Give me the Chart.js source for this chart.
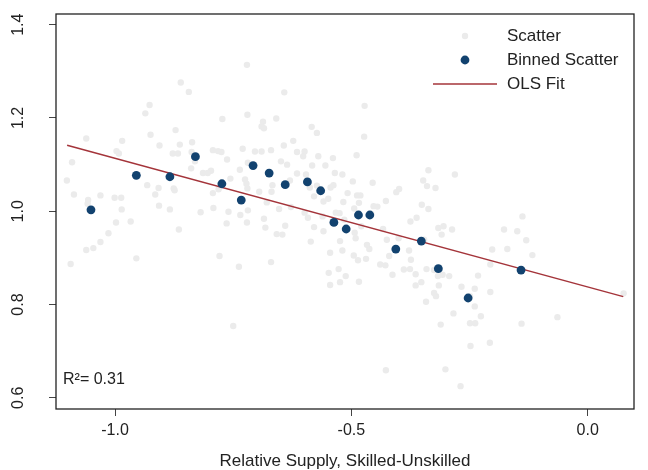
<!DOCTYPE html>
<html>
<head>
<meta charset="utf-8">
<script src="https://cdn.jsdelivr.net/npm/chart.js@4.4.1/dist/chart.umd.min.js"></script>
<style>
  html, body { margin: 0; padding: 0; background: #fff; }
  #wrap { width: 648px; height: 470px; }
</style>
</head>
<body>
<div id="wrap"><canvas id="chart"></canvas></div>
<script>
//raw scatter points
const scatterX = [
  -0.721, -0.861, -0.844, -0.642, -0.927, -0.936, -0.472, -0.773, -0.720, -0.659,
  -0.687, -0.690, -0.685, -0.584, -0.573, -0.925, -1.061, -0.985, -0.872, -0.473,
  -0.906, -0.863, -0.837, -0.623, -0.643, -0.730, -0.793, -0.782, -0.775, -0.997,
  -0.992, -1.091, -0.878, -0.867, -0.838, -0.704, -0.690, -0.670, -0.615, -0.599,
  -0.602, -0.489, -0.763, -0.831, -0.570, -0.539, -0.583, -0.649, -0.636, -0.596,
  -0.555, -0.719, -0.736, -0.797, -0.814, -0.804, -0.839, -0.535, -0.519, -0.337,
  -0.281, -0.497, -0.455, -0.348, -0.340, -0.322, -1.102, -1.087, -1.031, -1.057,
  -1.001, -0.987, -0.932, -0.908, -0.915, -0.876, -0.874, -0.793, -0.781, -0.756,
  -0.725, -0.722, -0.720, -0.695, -0.669, -0.667, -0.630, -0.615, -0.588, -0.573,
  -0.544, -0.538, -0.549, -0.579, -0.559, -0.517, -0.508, -0.488, -0.481, -0.484,
  -0.494, -0.453, -0.445, -0.427, -0.399, -0.405, -0.986, -0.907, -0.884, -0.792,
  -0.760, -0.735, -0.719, -0.679, -0.653, -0.628, -0.599, -0.533, -0.592, -0.561,
  -1.014, -0.998, -0.967, -1.031, -1.046, -1.061, -1.094, -0.955, -0.865, -0.819,
  -0.764, -0.721, -0.685, -0.682, -0.658, -0.646, -0.640, -0.579, -0.559, -0.586,
  -0.525, -0.515, -0.493, -0.491, -0.479, -0.458, -0.433, -0.425, -0.462, -0.467,
  -0.469, -0.486, -0.495, -0.524, -0.519, -0.545, -0.548, -0.527, -0.512, -0.545,
  -0.524, -0.484, -0.400, -0.375, -0.362, -0.351, -0.337, -0.316, -0.305, -0.287,
  -0.309, -0.346, -0.378, -0.374, -0.420, -0.439, -0.413, -0.428, -0.389, -0.376,
  -0.364, -0.364, -0.352, -0.341, -0.325, -0.317, -0.307, -0.293, -0.315, -0.321,
  -0.325, -0.342, -0.311, -0.284, -0.267, -0.249, -0.239, -0.232, -0.206, -0.202,
  -0.206, -0.226, -0.239, -0.249, -0.238, -0.248, -0.207, -0.177, -0.170, -0.149,
  -0.130, -0.138, -0.117, -0.140, -0.064, 0.076, -0.750, -0.427, -0.301, -0.269,
  -0.779, -0.738, -0.670, -1.058
];
const scatterY = [
  1.314, 1.276, 1.256, 1.255, 1.228, 1.210, 1.226, 1.198, 1.207, 1.199,
  1.192, 1.182, 1.178, 1.181, 1.168, 1.164, 1.156, 1.151, 1.174, 1.160,
  1.141, 1.143, 1.148, 1.151, 1.141, 1.134, 1.131, 1.129, 1.127, 1.129,
  1.124, 1.105, 1.124, 1.124, 1.127, 1.128, 1.128, 1.131, 1.127, 1.128,
  1.118, 1.120, 1.111, 1.107, 1.118, 1.114, 1.098, 1.107, 1.100, 1.079,
  1.098, 1.104, 1.089, 1.087, 1.082, 1.082, 1.092, 1.082, 1.079, 1.088,
  1.079, 1.064, 1.061, 1.066, 1.054, 1.050, 1.066, 1.036, 1.034, 1.024,
  1.029, 1.029, 1.056, 1.050, 1.036, 1.049, 1.045, 1.039, 1.047, 1.070,
  1.068, 1.059, 1.049, 1.042, 1.042, 1.056, 1.066, 1.081, 1.051, 1.055,
  1.051, 1.056, 1.027, 1.032, 1.021, 1.020, 1.039, 1.034, 1.034, 1.018,
  1.006, 1.011, 1.010, 1.022, 1.048, 1.041, 1.004, 1.012, 1.004, 1.007,
  0.999, 0.992, 1.002, 1.019, 1.005, 1.009, 0.997, 0.997, 0.986, 0.989,
  0.953, 0.976, 0.978, 0.934, 0.921, 0.917, 0.887, 0.899, 0.961, 0.998,
  0.974, 0.976, 0.984, 0.965, 0.951, 0.950, 0.969, 0.966, 0.957, 0.935,
  0.996, 0.982, 0.954, 0.942, 0.968, 0.994, 0.962, 0.939, 0.919, 0.928,
  0.898, 0.895, 0.905, 0.936, 0.916, 0.911, 0.868, 0.876, 0.861, 0.842,
  0.848, 0.849, 0.942, 0.978, 0.986, 1.014, 1.005, 0.964, 0.968, 0.961,
  0.950, 0.939, 0.916, 0.896, 0.904, 0.886, 0.864, 0.884, 0.875, 0.876,
  0.865, 0.841, 0.848, 0.876, 0.874, 0.861, 0.864, 0.861, 0.841, 0.818,
  0.825, 0.806, 0.757, 0.781, 0.838, 0.818, 0.834, 0.862, 0.827, 0.918,
  0.886, 0.775, 0.796, 0.760, 0.760, 0.711, 0.718, 0.961, 0.919, 0.957,
  0.938, 0.989, 0.906, 0.759, 0.773, 0.824, 0.754, 0.659, 0.661, 0.625,
  0.904, 0.881, 0.891, 1.016
];

//binned scatter means
const binX = [-1.051, -0.955, -0.884, -0.830, -0.774, -0.733, -0.708, -0.674, -0.640, -0.593,
              -0.565, -0.537, -0.511, -0.485, -0.461, -0.406, -0.352, -0.316, -0.253, -0.141];
const binY = [1.003, 1.077, 1.074, 1.117, 1.059, 1.024, 1.098, 1.082, 1.057, 1.063,
              1.044, 0.976, 0.962, 0.992, 0.992, 0.919, 0.936, 0.877, 0.814, 0.874];

//OLS fit end points
const olsX = [-1.1015, 0.0753];
const olsY = [1.1417, 0.817];

const xTicks = [-1.0, -0.5, 0.0];
const yTicks = [0.6, 0.8, 1.0, 1.2, 1.4];
const legendLabels = ['Scatter', 'Binned Scatter', 'OLS Fit'];
const xTitle = 'Relative Supply, Skilled-Unskilled';
const r2Text = 'R\u00b2= 0.31';

const FONT = '"Liberation Sans", Arial, Helvetica, sans-serif';
const GREY = '#ebebeb';
const BLUE = '#12426f';
const RED = '#a4343a';

const toPoints = (xs, ys) => xs.map((x, i) => ({ x: x, y: ys[i] }));

//box, rotated y labels, legend and R2 note
const decorPlugin = {
  id: 'decor',
  afterDraw(chart) {
    const ctx = chart.ctx;
    const a = chart.chartArea;
    const yScale = chart.scales.y;
    ctx.save();
    ctx.strokeStyle = '#222';
    ctx.lineWidth = 1.3;
    ctx.strokeRect(a.left, a.top, a.right - a.left, a.bottom - a.top);

    ctx.fillStyle = '#222';
    ctx.font = '16px ' + FONT;
    ctx.textAlign = 'center';
    ctx.textBaseline = 'middle';
    yTicks.forEach(v => {
      ctx.save();
      ctx.translate(19, yScale.getPixelForValue(v));
      ctx.rotate(-Math.PI / 2);
      ctx.fillText(v.toFixed(1), 0, 0);
      ctx.restore();
    });

    //legend
    ctx.font = '17px ' + FONT;
    ctx.textAlign = 'left';
    const lx = 465, tx = 507, rows = [36, 60, 84];
    ctx.fillStyle = GREY;
    ctx.beginPath(); ctx.arc(lx, rows[0], 3.2, 0, Math.PI * 2); ctx.fill();
    ctx.fillStyle = BLUE;
    ctx.beginPath(); ctx.arc(lx, rows[1], 4.4, 0, Math.PI * 2); ctx.fill();
    ctx.strokeStyle = RED;
    ctx.lineWidth = 1.5;
    ctx.beginPath(); ctx.moveTo(433, rows[2]); ctx.lineTo(497, rows[2]); ctx.stroke();
    ctx.fillStyle = '#222';
    legendLabels.forEach((t, i) => ctx.fillText(t, tx, rows[i]));

    ctx.font = '16px ' + FONT;
    ctx.fillText(r2Text, a.left + 7, 380);
    ctx.restore();
  }
};

new Chart(document.getElementById('chart'), {
  type: 'scatter',
  data: {
    datasets: [
      { label: 'Binned Scatter', data: toPoints(binX, binY), backgroundColor: BLUE, borderWidth: 0, pointRadius: 4.4, order: 0 },
      { label: 'OLS Fit', type: 'line', data: toPoints(olsX, olsY), borderColor: RED, borderWidth: 1.5, pointRadius: 0, fill: false, order: 1 },
      { label: 'Scatter', data: toPoints(scatterX, scatterY), backgroundColor: GREY, borderWidth: 0, pointRadius: 3.2, order: 2 }
    ]
  },
  options: {
    responsive: true,
    maintainAspectRatio: false,
    animation: false,
    layout: { padding: { top: 14, right: 14, left: 0, bottom: 0 } },
    plugins: { legend: { display: false }, tooltip: { enabled: false } },
    scales: {
      x: {
        type: 'linear', min: -1.125, max: 0.098,
        afterBuildTicks: s => { s.ticks = xTicks.map(v => ({ value: v })); },
        afterFit: s => { s.height = 61; },
        border: { display: false },
        grid: { drawOnChartArea: false, drawTicks: true, tickLength: 7, color: '#444' },
        ticks: { color: '#222', font: { family: FONT, size: 16 }, padding: 5, callback: v => v.toFixed(1) },
        title: { display: true, text: xTitle, color: '#222', font: { family: FONT, size: 17, lineHeight: 1 }, padding: { top: 0, bottom: 0 } }
      },
      y: {
        type: 'linear', min: 0.576, max: 1.423,
        afterBuildTicks: s => { s.ticks = yTicks.map(v => ({ value: v })); },
        afterFit: s => { s.width = 56; },
        border: { display: false },
        grid: { drawOnChartArea: false, drawTicks: true, tickLength: 7, color: '#444' },
        ticks: { display: false }
      }
    }
  },
  plugins: [decorPlugin]
});
</script>
</body>
</html>
